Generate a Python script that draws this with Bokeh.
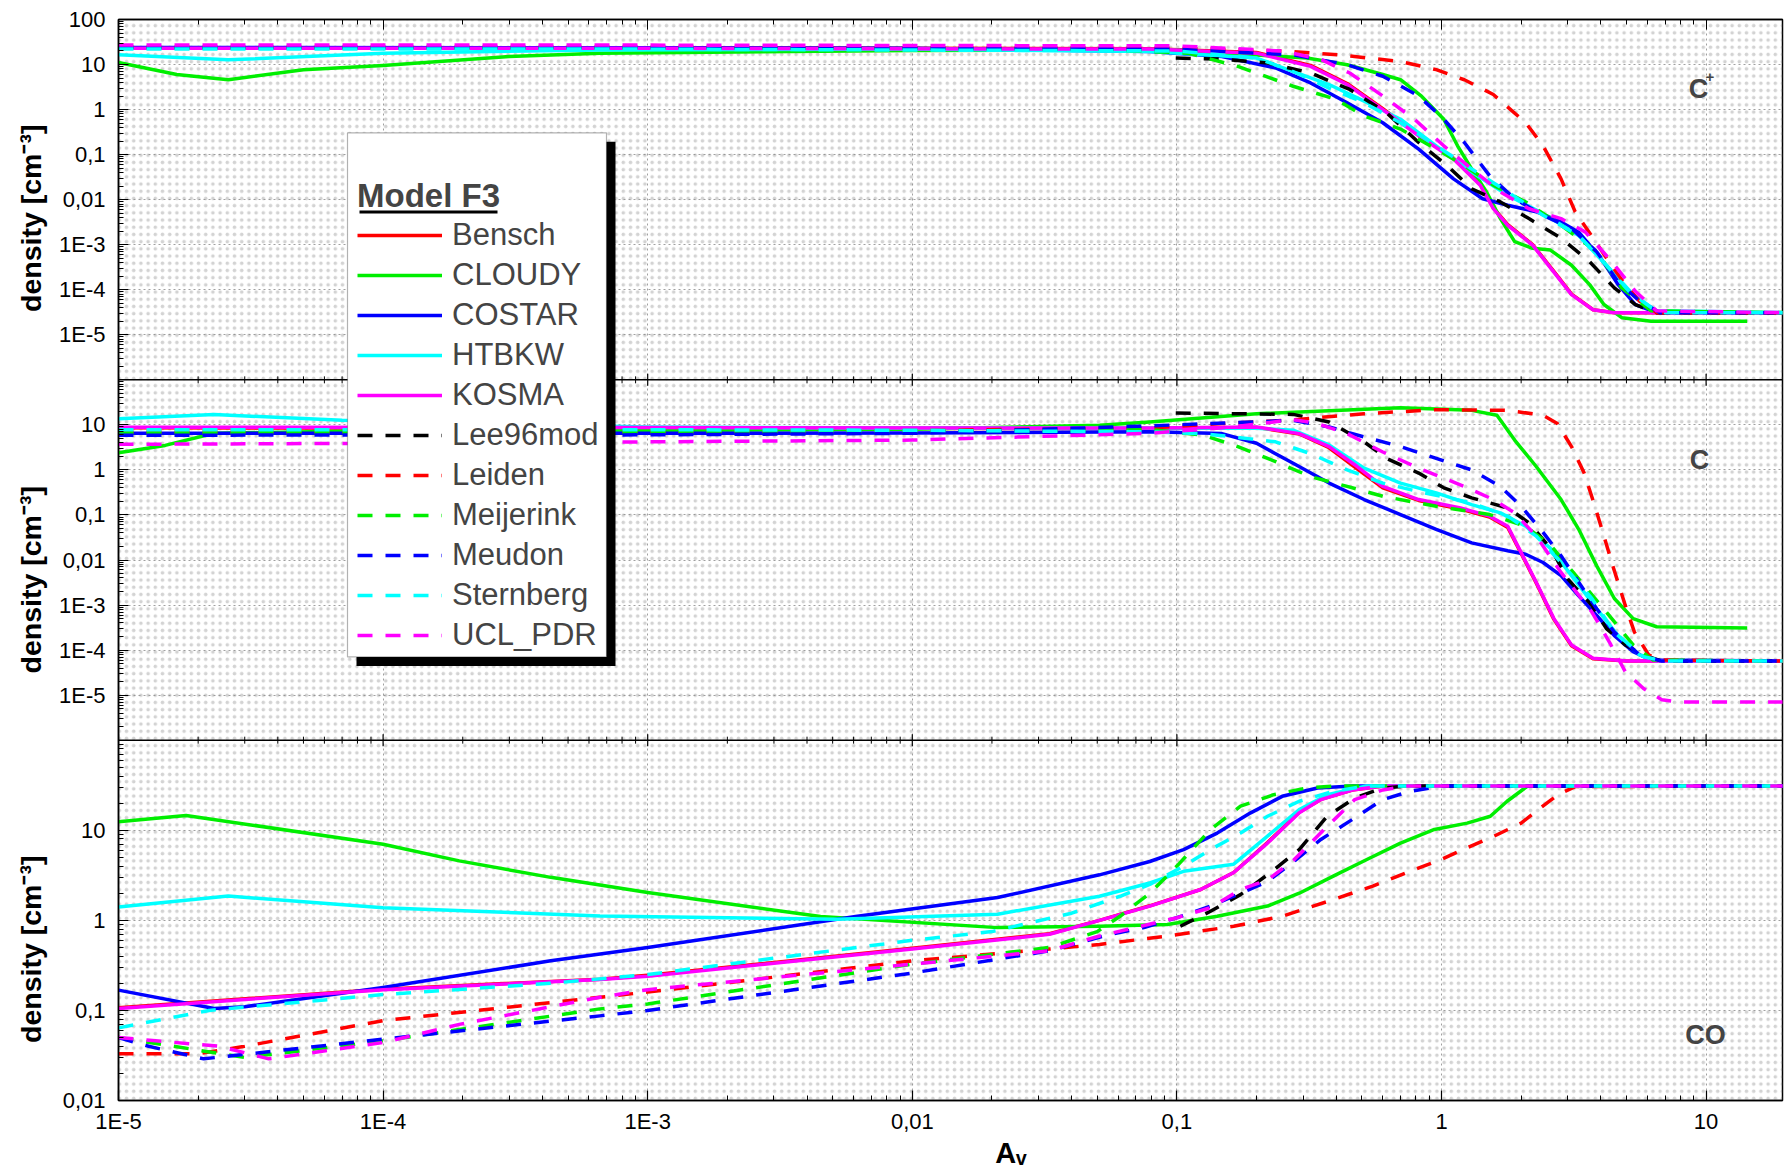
import math
from bokeh.plotting import figure
from bokeh.models import (Range1d, LogScale, LogAxis, FixedTicker, CustomJSTickFormatter,
                          Legend, LegendItem, Span, BoxAnnotation, Label)
from bokeh.embed import file_html
from bokeh.resources import INLINE

# ------------------------------------------------------------------ data
models = ["Bensch", "CLOUDY", "COSTAR", "HTBKW", "KOSMA", "Lee96mod",
          "Leiden", "Meijerink", "Meudon", "Sternberg", "UCL_PDR"]
colors = ["#ff0000", "#00ee00", "#0000ff", "#00ffff", "#ff00ff", "#000000",
          "#ff0000", "#00ee00", "#0000ff", "#00ffff", "#ff00ff"]
dashed = [False, False, False, False, False, True, True, True, True, True, True]

species_labels = ["C", "C", "CO"]
ytick_labels = ["100", "10", "1", "0,1", "0,01", "1E-3", "1E-4", "1E-5"]
ylabel_text = "density [cm\u207b\u00b3]"
xlabel_text = "A\u1d65"
legend_title = "Model F3"

# ---- C+ (top panel)
cp_bensch_av = [1e-5, 1e-3, 0.079, 0.2, 0.32, 0.44, 0.6, 0.82, 1.11, 1.4, 1.57, 1.78, 2.21, 2.64, 3.1, 3.74, 4.5, 20]
cp_bensch_n = [23.5, 23.5, 22.5, 18.5, 9.6, 3.8, 1.05, 0.27, 0.083, 0.022, 0.0066, 0.0028, 0.001, 0.00027, 8.0e-5, 3.6e-5, 3.1e-5, 3.1e-5]
cp_cloudy_av = [1e-5, 1.66e-5, 2.6e-5, 5e-5, 1e-4, 3e-4, 6.6e-4, 0.01, 0.1, 0.31, 0.44, 0.6, 0.7, 0.84, 1.02, 1.15, 1.3, 1.48, 1.67, 1.89, 2.21, 2.58, 3.1, 3.63, 4.11, 4.8, 6.2, 14.3]
cp_cloudy_n = [11.1, 6.0, 4.6, 7.7, 9.5, 15, 17.8, 20.5, 21, 13.9, 9.9, 6.0, 4.6, 1.99, 0.61, 0.157, 0.048, 0.0148, 0.0038, 0.00117, 0.00083, 0.00076, 0.00035, 0.00013, 4.7e-5, 2.4e-5, 2.0e-5, 2.0e-5]
cp_costar_av = [1e-5, 1e-3, 0.01, 0.079, 0.148, 0.236, 0.32, 0.44, 0.6, 0.82, 1.11, 1.43, 1.78, 2.28, 2.83, 3.3, 4.0, 4.65, 5.4, 6.5, 20]
cp_costar_n = [24, 23.5, 23, 19.5, 15.1, 8.4, 3.9, 1.42, 0.51, 0.133, 0.029, 0.0105, 0.0075, 0.0054, 0.0032, 0.0019, 0.0005, 0.00013, 4.7e-5, 3.1e-5, 3.1e-5]
cp_htbkw_av = [1e-5, 2.6e-5, 1e-4, 6.6e-4, 0.01, 0.079, 0.2, 0.376, 0.51, 0.7, 0.955, 1.3, 1.78, 2.42, 3.3, 4.2, 5.3, 6.5, 20]
cp_htbkw_n = [16.4, 12.7, 17.9, 21, 22, 19.5, 13.9, 3.6, 1.54, 0.61, 0.157, 0.041, 0.0125, 0.0049, 0.0016, 0.00035, 7.8e-5, 3.4e-5, 3.1e-5]
cp_kosma_av = [1e-5, 1e-3, 0.079, 0.2, 0.32, 0.44, 0.6, 0.82, 1.11, 1.4, 1.57, 1.78, 2.21, 2.64, 3.1, 3.74, 4.5, 20]
cp_kosma_n = [23, 23, 22, 17.9, 9.1, 3.6, 1.0, 0.26, 0.08, 0.021, 0.0063, 0.0027, 0.00098, 0.00026, 7.8e-5, 3.6e-5, 3.1e-5, 3.1e-5]
cp_lee96mod_av = [0.099, 0.148, 0.22, 0.32, 0.45, 0.62, 0.82, 1.05, 1.3, 1.67, 2.14, 2.83, 3.63, 4.5, 5.4, 6.5, 20]
cp_lee96mod_n = [13.9, 13.2, 10.8, 6.5, 2.8, 0.85, 0.186, 0.057, 0.0175, 0.0089, 0.0038, 0.0014, 0.00042, 0.00011, 4.7e-5, 3.1e-5, 3.1e-5]
cp_leiden_av = [1e-5, 1e-3, 0.1, 0.25, 0.41, 0.7, 0.955, 1.22, 1.57, 2.08, 2.42, 2.83, 3.2, 3.74, 4.37, 4.95, 5.6, 6.5, 20]
cp_leiden_n = [24, 24, 23, 20, 16.4, 11.7, 7.7, 4.6, 2.16, 0.51, 0.157, 0.029, 0.0054, 0.0014, 0.00036, 0.00013, 5.6e-5, 3.1e-5, 3.1e-5]
cp_meijerink_av = [1e-5, 1e-3, 0.05, 0.11, 0.17, 0.275, 0.4, 0.51, 0.7, 0.955, 1.22, 1.57, 2.08, 2.83, 3.86, 4.8, 6.2, 20]
cp_meijerink_n = [24, 24, 22, 17.9, 9.1, 3.3, 1.68, 0.72, 0.37, 0.133, 0.057, 0.021, 0.0089, 0.0027, 0.0007, 0.00011, 3.4e-5, 3.1e-5]
cp_meudon_av = [1e-5, 1e-3, 0.1, 0.275, 0.44, 0.6, 0.82, 1.02, 1.22, 1.52, 1.89, 2.42, 3.1, 3.86, 4.65, 5.6, 6.7, 20]
cp_meudon_n = [24, 24, 22, 16.4, 9.9, 5.5, 2.0, 0.61, 0.186, 0.034, 0.0105, 0.0045, 0.0023, 0.0007, 0.00015, 5.6e-5, 3.1e-5, 3.1e-5]
cp_sternberg_av = [1e-5, 1e-3, 0.1, 0.2, 0.275, 0.376, 0.51, 0.7, 0.955, 1.3, 1.78, 2.42, 3.3, 4.2, 5.1, 6.2, 7.0, 20]
cp_sternberg_n = [22, 22, 20, 14, 7.0, 3.0, 1.42, 0.51, 0.157, 0.048, 0.0148, 0.0045, 0.0016, 0.00035, 9.3e-5, 4e-5, 3.1e-5, 3.1e-5]
cp_uclpdr_av = [1e-5, 1e-3, 0.1, 0.25, 0.35, 0.45, 0.6, 0.79, 1.02, 1.3, 1.67, 2.14, 2.83, 3.5, 4.4, 5.4, 6.5, 20]
cp_uclpdr_n = [27, 27, 26, 20, 13, 6.5, 2.0, 0.61, 0.157, 0.048, 0.0148, 0.0063, 0.0038, 0.0019, 0.00042, 9.3e-5, 3.4e-5, 3.1e-5]

# ---- C (middle panel)
c_bensch_av = [1e-5, 1e-3, 0.079, 0.2, 0.29, 0.376, 0.48, 0.6, 0.82, 1.18, 1.52, 1.78, 2.0, 2.28, 2.66, 3.1, 3.74, 5.0, 20]
c_bensch_n = [8.6, 8.5, 8.3, 8.8, 6.3, 3.1, 1.05, 0.40, 0.21, 0.135, 0.09, 0.053, 0.014, 0.0031, 0.00048, 0.000125, 6.4e-5, 5.7e-5, 5.7e-5]
c_cloudy_av = [1e-5, 1.5e-5, 2.3e-5, 1e-4, 1e-3, 0.01, 0.051, 0.079, 0.2, 0.7, 1.3, 1.62, 1.89, 2.28, 2.83, 3.3, 3.86, 4.5, 5.3, 6.5, 14.3]
c_cloudy_n = [2.4, 3.5, 6.5, 7.5, 7.5, 8.0, 9.8, 11.6, 17.7, 24, 21, 16.3, 4.6, 1.19, 0.22, 0.048, 0.0074, 0.0014, 0.0005, 0.00033, 0.00031]
c_costar_av = [1e-5, 1e-3, 0.01, 0.079, 0.148, 0.2, 0.275, 0.376, 0.51, 0.7, 0.955, 1.3, 1.78, 2.08, 2.42, 2.83, 3.3, 3.86, 4.5, 5.3, 6.2, 20]
c_costar_n = [6.5, 6.5, 6.6, 7.0, 6.4, 3.9, 1.4, 0.51, 0.22, 0.102, 0.048, 0.024, 0.016, 0.0134, 0.0088, 0.0045, 0.0016, 0.00059, 0.00021, 9.2e-5, 6e-5, 5.7e-5]
c_htbkw_av = [1e-5, 2.3e-5, 7e-5, 1e-3, 0.01, 0.079, 0.2, 0.275, 0.376, 0.51, 0.7, 0.955, 1.3, 1.67, 2.08, 2.6, 3.1, 3.86, 4.65, 5.6, 6.5, 20]
c_htbkw_n = [13.7, 17, 12.6, 9.0, 8.5, 8.5, 8.4, 7.6, 3.6, 1.09, 0.51, 0.31, 0.17, 0.111, 0.056, 0.0174, 0.0045, 0.00083, 0.00021, 7.8e-5, 5.7e-5, 5.7e-5]
c_kosma_av = [1e-5, 1e-3, 0.079, 0.2, 0.29, 0.376, 0.48, 0.6, 0.82, 1.18, 1.52, 1.78, 2.0, 2.28, 2.66, 3.1, 3.74, 5.0, 20]
c_kosma_n = [8.9, 8.7, 8.5, 9.0, 6.4, 3.3, 1.19, 0.43, 0.22, 0.143, 0.094, 0.056, 0.0146, 0.0032, 0.0005, 0.00013, 6.6e-5, 5.7e-5, 5.7e-5]
c_lee96mod_av = [0.099, 0.275, 0.376, 0.51, 0.62, 0.82, 1.02, 1.3, 1.78, 2.14, 2.6, 3.0, 3.7, 4.2, 4.95, 5.8, 6.8, 20]
c_lee96mod_n = [18.3, 17.1, 11.6, 4.2, 1.8, 0.85, 0.40, 0.24, 0.143, 0.067, 0.0174, 0.0038, 0.00098, 0.0003, 0.00013, 7.8e-5, 5.7e-5, 5.7e-5]
c_leiden_av = [1e-5, 1e-3, 0.01, 0.079, 0.148, 0.26, 0.51, 0.955, 1.78, 2.42, 2.74, 3.1, 3.46, 3.8, 4.11, 4.44, 4.95, 5.36, 6.07, 6.76, 20]
c_leiden_n = [6.9, 7.0, 7.5, 8.5, 10.7, 12.6, 17.7, 21.7, 21, 16.3, 10.7, 3.3, 0.85, 0.156, 0.034, 0.0074, 0.00098, 0.00025, 7.8e-5, 6e-5, 5.7e-5]
c_meijerink_av = [1e-5, 1e-3, 0.01, 0.079, 0.126, 0.17, 0.236, 0.32, 0.44, 0.6, 0.955, 1.52, 2.08, 2.6, 3.3, 4.2, 5.3, 6.3, 20]
c_meijerink_n = [6.6, 6.8, 7.2, 7.9, 5.9, 3.3, 1.53, 0.71, 0.43, 0.26, 0.156, 0.102, 0.056, 0.0205, 0.0038, 0.0007, 0.00013, 6e-5, 5.7e-5]
c_meudon_av = [1e-5, 1e-3, 0.01, 0.079, 0.275, 0.376, 0.51, 0.7, 0.955, 1.3, 1.67, 2.0, 2.42, 2.83, 3.3, 3.86, 4.5, 5.6, 6.8, 20]
c_meudon_n = [5.9, 6.0, 6.5, 9.5, 12.6, 9.0, 5.4, 3.3, 1.8, 1.0, 0.43, 0.156, 0.041, 0.0124, 0.0032, 0.00083, 0.00025, 7.8e-5, 5.7e-5, 5.7e-5]
c_sternberg_av = [1e-5, 1e-3, 0.01, 0.079, 0.126, 0.236, 0.32, 0.44, 0.6, 0.82, 1.3, 1.78, 2.28, 2.83, 3.7, 4.5, 5.8, 7.0, 20]
c_sternberg_n = [7.8, 7.8, 7.6, 7.0, 6.4, 4.2, 2.3, 1.0, 0.51, 0.33, 0.185, 0.094, 0.034, 0.0088, 0.0014, 0.00025, 7.1e-5, 5.7e-5, 5.7e-5]
c_uclpdr_av = [1e-5, 1e-4, 1e-3, 0.01, 0.079, 0.16, 0.275, 0.34, 0.44, 0.6, 0.82, 1.22, 1.57, 1.89, 2.28, 2.83, 3.7, 4.37, 4.95, 5.8, 6.8, 8.0, 20]
c_uclpdr_n = [3.7, 3.9, 4.2, 4.6, 6.5, 8.9, 13.1, 10.7, 6.4, 2.5, 1.09, 0.43, 0.22, 0.111, 0.034, 0.0053, 0.0007, 0.00013, 3.3e-5, 1.4e-5, 7.9e-6, 7.0e-6, 7.0e-6]

# ---- CO (bottom panel)
co_bensch_av = [1e-5, 1e-4, 6.6e-4, 1e-3, 0.01, 0.033, 0.051, 0.079, 0.123, 0.164, 0.22, 0.29, 0.35, 0.46, 0.6, 20]
co_bensch_n = [0.107, 0.172, 0.222, 0.245, 0.49, 0.71, 1.0, 1.45, 2.2, 3.4, 7.3, 15.8, 22, 28, 31, 31]
co_cloudy_av = [1e-5, 1.8e-5, 1e-4, 1.94e-4, 4.3e-4, 1e-3, 4.5e-3, 0.021, 0.051, 0.092, 0.142, 0.22, 0.29, 0.39, 0.52, 0.7, 0.94, 1.25, 1.53, 1.77, 2.11, 20]
co_cloudy_n = [12.4, 14.6, 7.0, 4.57, 3.0, 2.04, 1.1, 0.83, 0.86, 0.9, 1.11, 1.44, 2.0, 3.1, 4.7, 7.2, 10.2, 12, 14.3, 21, 30.8, 31]
co_costar_av = [1e-5, 2.3e-5, 3e-5, 1e-4, 4.3e-4, 1e-3, 6.1e-3, 0.021, 0.051, 0.079, 0.106, 0.142, 0.19, 0.25, 0.34, 0.46, 20]
co_costar_n = [0.168, 0.105, 0.11, 0.18, 0.355, 0.5, 1.1, 1.79, 3.2, 4.5, 6.1, 9.3, 15.6, 23.8, 29.5, 31, 31]
co_htbkw_av = [1e-5, 2.6e-5, 1e-4, 6.6e-4, 5.2e-3, 0.021, 0.051, 0.079, 0.106, 0.164, 0.22, 0.29, 0.37, 0.52, 20]
co_htbkw_n = [1.41, 1.86, 1.38, 1.12, 1.03, 1.17, 1.85, 2.6, 3.5, 4.2, 8.6, 17, 24.8, 31, 31]
co_kosma_av = [1e-5, 1e-4, 6.6e-4, 1e-3, 0.01, 0.033, 0.051, 0.079, 0.123, 0.164, 0.22, 0.29, 0.35, 0.46, 0.6, 20]
co_kosma_n = [0.105, 0.17, 0.22, 0.24, 0.48, 0.70, 1.0, 1.44, 2.2, 3.4, 7.2, 15.6, 21.9, 28, 31, 31]
co_lee96mod_av = [0.103, 0.134, 0.174, 0.226, 0.29, 0.37, 0.47, 0.6, 0.75, 20]
co_lee96mod_n = [0.86, 1.26, 1.93, 3.4, 6.1, 14.3, 22.8, 29.5, 31, 31]
co_leiden_av = [1e-5, 2e-5, 3e-5, 1e-4, 6.6e-4, 1e-3, 0.01, 0.033, 0.051, 0.092, 0.164, 0.25, 0.39, 0.55, 0.74, 0.99, 1.25, 1.58, 2.0, 2.5, 2.77, 3.2, 20]
co_leiden_n = [0.033, 0.033, 0.04, 0.077, 0.14, 0.16, 0.355, 0.48, 0.54, 0.67, 0.86, 1.11, 1.7, 2.4, 3.4, 4.7, 6.4, 8.6, 12, 20, 25, 30.5, 31]
co_meijerink_av = [1e-5, 3e-5, 1e-4, 6.6e-4, 1e-3, 0.01, 0.033, 0.05, 0.061, 0.079, 0.1, 0.134, 0.174, 0.232, 0.31, 0.4, 20]
co_meijerink_n = [0.05, 0.03, 0.046, 0.104, 0.118, 0.326, 0.5, 0.75, 1.11, 2.0, 4.0, 10.2, 18.5, 24.8, 29.5, 31, 31]
co_meudon_av = [1e-5, 1.3e-5, 2.1e-5, 1e-4, 6.6e-4, 1e-3, 0.01, 0.033, 0.056, 0.075, 0.1, 0.134, 0.174, 0.22, 0.277, 0.35, 0.47, 0.6, 0.76, 1.0, 20]
co_meudon_n = [0.05, 0.04, 0.029, 0.048, 0.087, 0.1, 0.26, 0.46, 0.7, 0.83, 1.07, 1.44, 2.0, 2.7, 4.5, 7.9, 13.7, 21.9, 27, 31, 31]
co_sternberg_av = [1e-5, 2.2e-5, 1e-4, 4.3e-4, 1e-3, 0.01, 0.02, 0.04, 0.061, 0.079, 0.106, 0.134, 0.174, 0.22, 0.29, 0.39, 0.52, 20]
co_sternberg_n = [0.064, 0.1, 0.15, 0.2, 0.25, 0.6, 0.75, 1.2, 1.85, 2.5, 4.0, 6.1, 9.3, 14.3, 21, 27, 31, 31]
co_uclpdr_av = [1e-5, 2.4e-5, 3.7e-5, 1e-4, 1.94e-4, 6.6e-4, 1e-3, 0.01, 0.033, 0.051, 0.073, 0.1, 0.134, 0.174, 0.22, 0.277, 0.36, 0.47, 0.6, 0.75, 20]
co_uclpdr_n = [0.05, 0.04, 0.029, 0.044, 0.07, 0.14, 0.17, 0.326, 0.46, 0.67, 0.86, 1.07, 1.38, 2.2, 2.8, 4.7, 10.2, 21.9, 28, 31, 31]

panel_cp = [(cp_bensch_av, cp_bensch_n), (cp_cloudy_av, cp_cloudy_n), (cp_costar_av, cp_costar_n),
            (cp_htbkw_av, cp_htbkw_n), (cp_kosma_av, cp_kosma_n), (cp_lee96mod_av, cp_lee96mod_n),
            (cp_leiden_av, cp_leiden_n), (cp_meijerink_av, cp_meijerink_n), (cp_meudon_av, cp_meudon_n),
            (cp_sternberg_av, cp_sternberg_n), (cp_uclpdr_av, cp_uclpdr_n)]
panel_c = [(c_bensch_av, c_bensch_n), (c_cloudy_av, c_cloudy_n), (c_costar_av, c_costar_n),
           (c_htbkw_av, c_htbkw_n), (c_kosma_av, c_kosma_n), (c_lee96mod_av, c_lee96mod_n),
           (c_leiden_av, c_leiden_n), (c_meijerink_av, c_meijerink_n), (c_meudon_av, c_meudon_n),
           (c_sternberg_av, c_sternberg_n), (c_uclpdr_av, c_uclpdr_n)]
panel_co = [(co_bensch_av, co_bensch_n), (co_cloudy_av, co_cloudy_n), (co_costar_av, co_costar_n),
            (co_htbkw_av, co_htbkw_n), (co_kosma_av, co_kosma_n), (co_lee96mod_av, co_lee96mod_n),
            (co_leiden_av, co_leiden_n), (co_meijerink_av, co_meijerink_n), (co_meudon_av, co_meudon_n),
            (co_sternberg_av, co_sternberg_n), (co_uclpdr_av, co_uclpdr_n)]

# ------------------------------------------------------------------ layout
W, H = 1784, 1171
FL, FR, FT, FB = 118, 1782, 19, 1106
XMAX = 10 ** ((FR - FL) / 264.6 - 5)
LXSPAN = math.log10(XMAX) + 5


def xd(px):
    return 10 ** (-5 + (px - FL) / (FR - FL) * LXSPAN)


def yd(py):
    return 3.0 * (FB - py) / (FB - FT)


FONT = "Liberation Sans"
NB = "\u00a0"

p = figure(width=W, height=H, x_axis_type="log", x_range=Range1d(1e-5, XMAX),
           y_range=Range1d(0, 3), output_backend="svg", toolbar_location=None,
           min_border_left=FL, min_border_right=W - FR, min_border_top=FT, min_border_bottom=H - FB)
p.extra_y_ranges = {"cp": Range1d(1e-22, 1e2), "c": Range1d(1e-14, 1e10), "co": Range1d(1e-2, 1e10)}
p.extra_y_scales = {"cp": LogScale(), "c": LogScale(), "co": LogScale()}
p.background_fill_color = "white"
p.border_fill_color = "white"
p.outline_line_color = "black"
p.outline_line_width = 1.5

# dotted paper background
p.add_layout(BoxAnnotation(fill_alpha=0, line_alpha=0, hatch_pattern="dot",
                           hatch_color="#8c8c8c", hatch_alpha=0.38, hatch_scale=7.2, level="underlay"))

# ---- ticks
x_major = [10.0 ** e for e in range(-5, 2)]
x_minor = [k * 10.0 ** e for e in range(-5, 2) for k in range(2, 10) if k * 10.0 ** e <= XMAX]

y_major, y_minor, y_pos_lab, y_lab = [], [], [], []
panels = [(2.0, 8.0, -6, 2), (1.0, 8.0, -6, 2), (0.0, 4.0, -2, 2)]  # offset, decades/unit, lo, hi
lab_exp = {"100": 2, "10": 1, "1": 0, "0,1": -1, "0,01": -2, "1E-3": -3, "1E-4": -4, "1E-5": -5}
for pi_, (off, dpu, lo, hi) in enumerate(panels):
    for e in range(lo, hi + 1):
        pos = round(off + (e - lo) / dpu, 9)
        if pos not in y_major:
            y_major.append(pos)
        if e < hi:
            for k in range(2, 10):
                y_minor.append(off + (e + math.log10(k) - lo) / dpu)
    for lab in ytick_labels:
        v = lab_exp[lab]
        if lo <= v <= hi and not (pi_ > 0 and v == hi):
            y_pos_lab.append(round(off + (v - lo) / dpu, 9))
            y_lab.append(lab)

xfmt = CustomJSTickFormatter(code="""
const e = Math.round(Math.log10(tick));
if (e <= -3) return "1E" + e;
if (e < 0) return "0," + "0".repeat(-e - 1) + "1";
return String(Math.round(Math.pow(10, e)));
""")
yfmt = CustomJSTickFormatter(args=dict(pos=y_pos_lab, labs=y_lab), code="""
for (let i = 0; i < pos.length; i++) { if (Math.abs(pos[i] - tick) < 1e-6) return labs[i]; }
return "";
""")

xa = p.xaxis[0]
xa.ticker = FixedTicker(ticks=x_major, minor_ticks=x_minor)
xa.formatter = xfmt
ya = p.yaxis[0]
ya.ticker = FixedTicker(ticks=y_major, minor_ticks=y_minor)
ya.formatter = yfmt
for ax in (xa, ya):
    ax.major_tick_in = 10
    ax.major_tick_out = 0
    ax.minor_tick_in = 5
    ax.minor_tick_out = 0
    ax.axis_line_width = 1.5
    ax.major_tick_line_width = 1.2
    ax.major_label_text_font = FONT
    ax.major_label_text_font_size = "22px"
    ax.major_label_text_color = "black"
    ax.axis_label_text_font = FONT
    ax.axis_label_text_font_style = "bold"
    ax.axis_label_text_color = "black"
xa.major_label_standoff = 8
ya.major_label_standoff = 13

# y label repeated once per panel (bottom -> top along the rotated axis label)
ya.axis_label = ylabel_text + NB * 23 + ylabel_text + NB * 22 + ylabel_text + NB * 6
ya.axis_label_text_font_size = "28.5px"
ya.axis_label_standoff = 9

xa.axis_label = NB * 15 + xlabel_text
xa.axis_label_text_font_size = "29px"
xa.axis_label_standoff = 0

top_axis = LogAxis(ticker=FixedTicker(ticks=x_major, minor_ticks=x_minor),
                   formatter=CustomJSTickFormatter(code="return '';"),
                   major_label_text_font_size="0px", major_label_standoff=0,
                   major_tick_in=10, major_tick_out=0, minor_tick_in=5, minor_tick_out=0,
                   axis_line_width=1.5)
p.add_layout(top_axis, "above")

p.xgrid[0].ticker = FixedTicker(ticks=x_major)
p.ygrid[0].ticker = FixedTicker(ticks=y_major)
for g in (p.xgrid[0], p.ygrid[0]):
    g.grid_line_color = "#a0a0a0"
    g.grid_line_dash = "2 3"
    g.grid_line_width = 1

# tick marks along the internal panel borders
unit_px = (FB - FT) / 3.0
for s in (1.0, 2.0):
    d1 = 6.0 / unit_px
    d2 = 3.5 / unit_px
    p.segment(x0=x_major, y0=[s - d1] * len(x_major), x1=x_major, y1=[s + d1] * len(x_major),
              line_color="black", line_width=1.2)
    p.segment(x0=x_minor, y0=[s - d2] * len(x_minor), x1=x_minor, y1=[s + d2] * len(x_minor),
              line_color="black", line_width=1)

# ---- curves
legend_renderers = []
for rname, pdata in (("cp", panel_cp), ("c", panel_c), ("co", panel_co)):
    for i, (av, n) in enumerate(pdata):
        r = p.line(av, n, y_range_name=rname, line_color=colors[i], line_width=3.5,
                   line_dash="15 13" if dashed[i] else "solid", line_join="round")
        if rname == "cp":
            legend_renderers.append(r)

# panel separators
for s in (1.0, 2.0):
    p.add_layout(Span(location=s, dimension="width", line_color="black", line_width=1.5))

# ---- legend box with shadow
p.add_layout(BoxAnnotation(left=xd(356), right=xd(615), top=yd(142), bottom=yd(669),
                           fill_color="black", fill_alpha=1, line_alpha=0))
p.add_layout(BoxAnnotation(left=xd(347), right=xd(606), top=yd(133), bottom=yd(660),
                           fill_color="white", fill_alpha=1, line_color="black", line_width=1.2))
p.add_layout(BoxAnnotation(left=xd(359), right=xd(497), top=yd(211), bottom=yd(214),
                           fill_color="black", fill_alpha=1, line_alpha=0))

legend = Legend(items=[LegendItem(label=m, renderers=[r]) for m, r in zip(models, legend_renderers)],
                location=(357 - FL, FB - 661), title=legend_title,
                title_text_font=FONT, title_text_font_style="bold", title_text_font_size="33px",
                title_standoff=0,
                label_text_font=FONT, label_text_font_size="31px",
                glyph_width=85, glyph_height=40, label_height=40, label_standoff=10,
                spacing=0, padding=0, margin=0,
                border_line_alpha=0, background_fill_alpha=0)
p.add_layout(legend)

# ---- species labels inside the panels
p.add_layout(Label(x=xd(1698), y=yd(89), text=species_labels[0], text_font=FONT, text_font_style="bold",
                   text_font_size="27px", text_align="center", text_baseline="alphabetic"))
p.add_layout(Label(x=xd(1705), y=yd(77), text="+", text_font=FONT, text_font_style="bold",
                   text_font_size="15px", text_align="left", text_baseline="alphabetic"))
p.add_layout(Label(x=xd(1699), y=yd(462), text=species_labels[1], text_font=FONT, text_font_style="bold",
                   text_font_size="27px", text_align="center", text_baseline="alphabetic"))
p.add_layout(Label(x=xd(1705), y=yd(1040), text=species_labels[2], text_font=FONT, text_font_style="bold",
                   text_font_size="27px", text_align="center", text_baseline="alphabetic"))

open("out.html", "w").write(file_html(p, INLINE))
